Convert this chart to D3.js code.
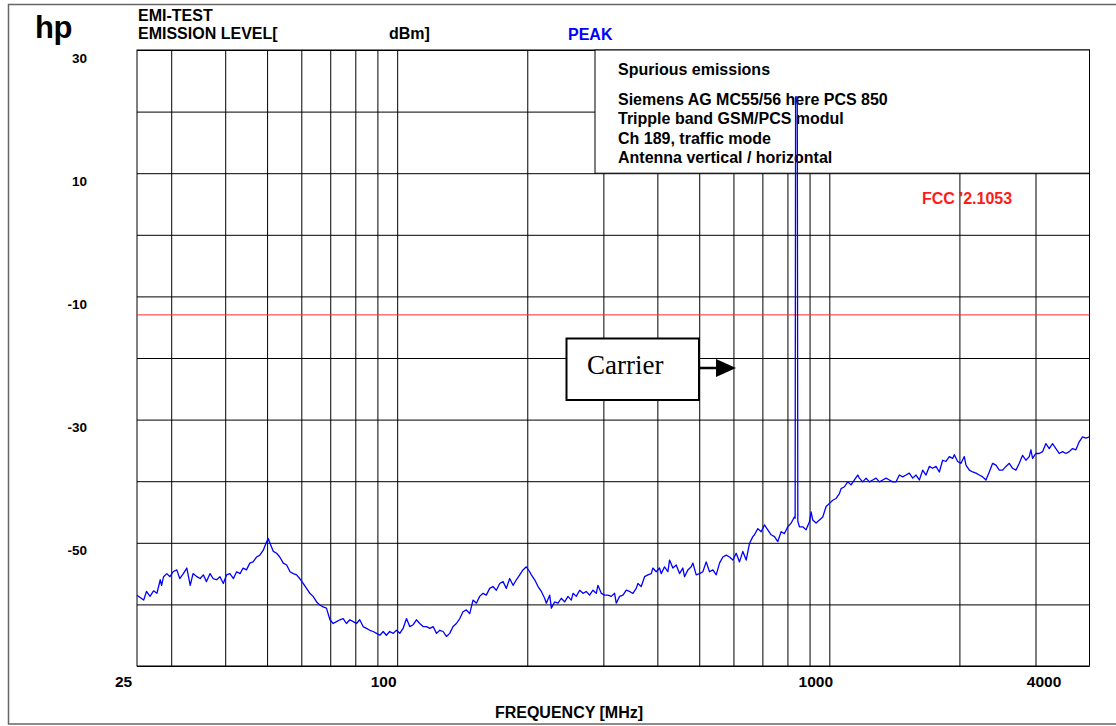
<!DOCTYPE html>
<html><head><meta charset="utf-8">
<script src="https://cdn.jsdelivr.net/npm/d3@7"></script>
<style>
body{margin:0;background:#fff}
svg{display:block}
text{font-family:"Liberation Sans",Arial,Helvetica,sans-serif;font-weight:bold}
</style>
</head><body>
<svg id="c" width="1116" height="726"></svg>
<script>
// ---- data ----
const freqMHz = [
25.0,25.9,26.3,26.8,27.3,27.8,28.3,28.5,28.8,29.3,29.8,30.3,30.9,31.4,32.0,32.6,33.2,33.7,34.4,35.0,
35.6,36.2,36.9,37.5,38.2,38.9,39.6,40.3,41.0,41.8,42.5,43.3,44.0,44.8,45.6,46.4,47.3,48.1,49.0,49.9,
50.3,50.8,51.7,52.6,53.5,54.5,55.5,56.5,57.5,58.5,59.5,60.6,61.7,62.8,63.9,65.1,66.2,67.4,68.6,69.9,
71.1,72.4,73.7,75.0,76.3,77.7,79.1,80.5,81.9,83.4,84.9,86.4,88.0,89.6,91.2,92.8,94.4,96.1,97.9,99.6,
101.4,103.2,105.1,106.9,108.9,110.8,112.8,114.8,116.9,119.0,121.1,123.3,125.5,127.7,130.0,132.3,134.7,137.1,139.6,142.0,
144.6,147.2,149.8,152.5,155.2,158.0,160.8,163.7,166.6,169.6,172.7,175.8,178.9,182.1,185.4,188.7,192.1,195.5,199.0,202.6,
204.4,208.1,211.8,215.6,219.4,221.4,225.4,227.4,231.4,235.6,239.8,244.1,248.5,252.9,255.2,259.7,264.4,269.1,273.9,278.8,
283.8,288.9,291.4,296.7,302.0,307.4,312.9,318.5,321.3,327.1,333.0,338.9,345.0,351.2,357.4,360.6,367.1,373.7,380.4,387.2,
390.6,397.6,404.7,408.3,415.6,423.1,426.8,434.5,442.3,450.2,458.2,462.3,470.7,479.1,483.4,492.0,500.8,509.8,518.9,528.2,
537.7,547.3,557.1,567.1,577.2,587.6,598.1,608.8,619.7,630.8,642.1,653.6,665.2,671.1,683.1,695.4,707.8,720.5,733.4,746.5,
759.9,773.5,787.3,801.5,815.8,823.1,830.4,833.5,835.5,843.0,845.5,852.8,868.1,883.6,899.5,907.5,915.6,932.0,948.7,965.7,
983.0,1000.6,1018.5,1036.7,1055.3,1064.7,1083.7,1103.1,1122.9,1143.0,1163.5,1173.8,1194.8,1216.2,1238.0,1260.2,1282.7,1305.7,1329.1,1352.8,
1377.0,1401.7,1426.8,1452.3,1478.3,1504.8,1531.7,1559.1,1587.0,1615.5,1644.4,1673.9,1703.8,1734.3,1765.4,1797.0,1829.1,1861.9,1895.2,1929.3,
1946.5,1981.4,2016.8,2052.9,2071.2,2108.3,2146.0,2184.4,2223.6,2263.4,2303.9,2345.2,2387.1,2429.9,2473.4,2517.7,2562.7,2608.6,2655.3,2702.8,
2751.2,2800.5,2850.6,2901.6,2927.5,2953.6,3006.5,3060.3,3115.1,3170.8,3227.6,3285.4,3344.2,3404.1,3465.0,3527.1,3590.2,3654.5,3719.9,3786.5,
3854.3,3923.4,4000
];
const levelDbm = [
-58.5,-59.3,-57.9,-58.7,-57.8,-58.2,-56.0,-56.9,-55.5,-55.0,-55.5,-54.7,-54.4,-55.8,-55.0,-54.1,-56.9,-55.0,-55.5,-55.8,
-55.2,-56.3,-55.0,-55.8,-56.0,-55.5,-56.6,-55.2,-55.0,-55.8,-54.7,-55.0,-54.1,-54.4,-53.3,-53.1,-52.3,-52.0,-51.2,-49.8,
-49.3,-50.1,-51.4,-51.7,-52.3,-53.3,-53.6,-54.7,-55.0,-55.2,-55.8,-56.6,-57.4,-58.2,-58.7,-59.6,-60.1,-60.4,-60.6,-62.5,
-63.1,-62.8,-62.5,-62.3,-63.1,-62.5,-62.8,-63.1,-62.5,-63.6,-63.9,-64.2,-64.4,-64.7,-65.0,-64.4,-65.0,-64.4,-64.7,-64.2,
-64.7,-63.9,-62.3,-63.6,-63.3,-62.5,-63.1,-63.6,-63.6,-63.9,-63.6,-64.7,-64.2,-64.4,-65.2,-64.7,-63.6,-63.1,-62.3,-61.2,
-60.9,-61.5,-59.3,-59.8,-58.7,-58.2,-58.5,-57.4,-57.1,-57.7,-56.6,-56.3,-57.4,-55.8,-56.9,-56.0,-55.2,-54.4,-53.9,-54.7,
-55.2,-56.0,-57.1,-57.9,-59.0,-59.8,-58.5,-60.6,-59.6,-59.8,-59.0,-59.6,-58.7,-59.3,-58.2,-58.7,-57.7,-58.2,-57.9,-58.5,
-57.7,-58.2,-56.9,-58.2,-58.5,-58.5,-58.7,-58.2,-59.8,-58.7,-58.5,-57.7,-57.9,-58.2,-57.4,-56.6,-57.1,-55.5,-55.2,-55.0,
-54.1,-54.7,-54.1,-55.0,-53.9,-54.7,-52.8,-54.1,-53.6,-55.0,-54.1,-55.5,-54.4,-53.9,-53.3,-55.2,-55.0,-54.7,-53.1,-54.7,
-54.4,-55.2,-53.3,-52.3,-52.0,-52.3,-52.8,-51.7,-53.1,-51.4,-52.8,-50.1,-49.0,-48.7,-47.7,-48.2,-47.1,-47.9,-48.7,-49.0,
-49.8,-48.2,-48.5,-47.4,-46.8,-46.3,-45.8,-46.0,22.4,22.4,-46.5,-47.4,-47.4,-47.9,-46.6,-45.0,-46.3,-46.8,-46.3,-45.8,
-44.1,-43.6,-43.1,-42.8,-42.0,-41.2,-40.9,-40.1,-40.6,-39.8,-39.0,-39.5,-40.1,-39.5,-40.1,-39.8,-39.5,-40.1,-39.8,-39.5,
-39.8,-40.1,-40.1,-39.0,-39.3,-39.0,-38.7,-39.5,-39.0,-39.8,-38.2,-39.0,-37.6,-37.9,-37.6,-38.5,-36.6,-36.8,-36.0,-36.3,
-35.7,-36.8,-37.1,-36.0,-37.4,-38.2,-38.5,-38.7,-39.0,-39.3,-39.8,-38.5,-37.1,-37.4,-38.2,-38.2,-37.6,-37.1,-37.9,-38.2,
-37.1,-35.8,-36.6,-36.0,-34.9,-36.3,-35.5,-35.5,-35.2,-33.9,-34.7,-33.9,-34.7,-35.5,-35.2,-35.5,-35.2,-34.7,-34.9,-33.6,
-32.8,-33.0,-32.8
];
const xTickLabels = [25, 100, 1000, 4000];
const xGridMHz = [30,40,50,60,70,80,90,100,200,300,400,500,600,700,800,900,1000,2000,3000];
const yTickLabels = [30, 10, -10, -30, -50];
const yGridDbm = [-70,-60,-50,-40,-30,-20,-10,0,10,20,30];
const fccLimitDbm = -13;
const fccLabel = "FCC '2.1053";
const infoTitle = "Spurious emissions";
const infoLines = ["Siemens AG MC55/56 here PCS 850","Tripple band GSM/PCS modul","Ch 189, traffic mode","Antenna vertical / horizontal"];
const carrierLabel = "Carrier";

// ---- layout ----
const L = 137, R = 1089.5, T = 50, B = 666;
const svg = d3.select("#c");
const x = d3.scaleLog().domain([25, 4000]).range([L, R]);
const y = d3.scaleLinear().domain([-70, 30]).range([B, T]);
const fmt = d => String(d);

// outer frame
svg.append("rect").attr("x",8.5).attr("y",4.5).attr("width",1130).attr("height",719.5)
  .attr("fill","none").attr("stroke","#666").attr("stroke-width",1.5);

// grid
const g = svg.append("g");
g.append("g").attr("transform",`translate(0,${B})`)
  .call(d3.axisBottom(x).tickValues(xGridMHz).tickSize(-(B-T)).tickFormat(""))
  .call(s=>{s.select(".domain").remove(); s.selectAll("line").attr("stroke","#000").attr("stroke-width",1);});
g.append("g").attr("transform",`translate(${L},0)`)
  .call(d3.axisLeft(y).tickValues(yGridDbm).tickSize(-(R-L)).tickFormat(""))
  .call(s=>{s.select(".domain").remove(); s.selectAll("line").attr("stroke","#000").attr("stroke-width",1);});
g.append("rect").attr("x",L).attr("y",T).attr("width",R-L).attr("height",B-T)
  .attr("fill","none").attr("stroke","#000").attr("stroke-width",1);

// info box (white, covering grid)
const boxX = 595;
svg.append("rect").attr("x",boxX).attr("y",T).attr("width",R-boxX).attr("height",y(10)-T)
  .attr("fill","#fff").attr("stroke","#000").attr("stroke-width",1);
const info = svg.append("g").attr("font-size",16).attr("fill","#000");
info.append("text").attr("x",618).attr("y",75).text(infoTitle);
infoLines.forEach((t,i)=>info.append("text").attr("x",618).attr("y",104.5+i*19.6).text(t));

// FCC limit line
svg.append("line").attr("x1",L).attr("x2",R).attr("y1",y(fccLimitDbm)).attr("y2",y(fccLimitDbm))
  .attr("stroke","#ff2a2a").attr("stroke-width",1);
svg.append("text").attr("x",922).attr("y",203.5).attr("font-size",16).attr("fill","#ff1a1a").text(fccLabel);

// Carrier annotation
svg.append("rect").attr("x",566.5).attr("y",338.5).attr("width",132.5).attr("height",61.5)
  .attr("fill","#fff").attr("stroke","#000").attr("stroke-width",2);
svg.append("text").attr("x",587).attr("y",374).attr("font-size",27)
  .attr("style","font-family:'Liberation Serif','Times New Roman',serif;font-weight:normal").text(carrierLabel);
svg.append("line").attr("x1",699).attr("x2",718).attr("y1",368).attr("y2",368).attr("stroke","#000").attr("stroke-width",2.5);
svg.append("path").attr("d","M716,359L736,368L716,377Z").attr("fill","#000");

// trace
const data = freqMHz.map((f,i)=>[f, levelDbm[i]]);
svg.append("path").datum(data)
  .attr("fill","none").attr("stroke","#0000ff").attr("stroke-width",1.3).attr("stroke-linejoin","round")
  .attr("d", d3.line().x(d=>x(d[0])).y(d=>y(d[1])));

// axis labels
svg.append("g").attr("transform",`translate(0,${B})`)
  .call(d3.axisBottom(x).tickValues(xTickLabels).tickSize(0).tickPadding(0).tickFormat(fmt))
  .call(s=>{
    s.select(".domain").remove();
    s.selectAll("text").attr("font-size",15.5).attr("fill","#000").attr("dy",null).attr("y",21)
      .attr("text-anchor","middle")
      .attr("x", d => Math.min(0, (R-32) - x(d)) - 14);
    s.attr("font-family",null);
  });
svg.append("g").attr("transform",`translate(${L},0)`)
  .call(d3.axisLeft(y).tickValues(yTickLabels).tickSize(0).tickPadding(50).tickFormat(fmt))
  .call(s=>{
    s.select(".domain").remove();
    s.selectAll("text").attr("font-size",13.5).attr("fill","#000").attr("dy","0.9em");
    s.attr("font-family",null);
  });

// header texts
svg.append("text").attr("x",35).attr("y",38).attr("font-size",31).attr("letter-spacing",-0.5).text("hp");
svg.append("text").attr("x",138).attr("y",20.5).attr("font-size",16).text("EMI-TEST");
svg.append("text").attr("x",138).attr("y",38.5).attr("font-size",16).text("EMISSION LEVEL[");
svg.append("text").attr("x",389).attr("y",38.5).attr("font-size",16).text("dBm]");
svg.append("text").attr("x",568).attr("y",39.5).attr("font-size",16).attr("fill","#0000ff").text("PEAK");
svg.append("text").attr("x",569).attr("y",718).attr("font-size",16).attr("text-anchor","middle").text("FREQUENCY [MHz]");
</script>
</body></html>
